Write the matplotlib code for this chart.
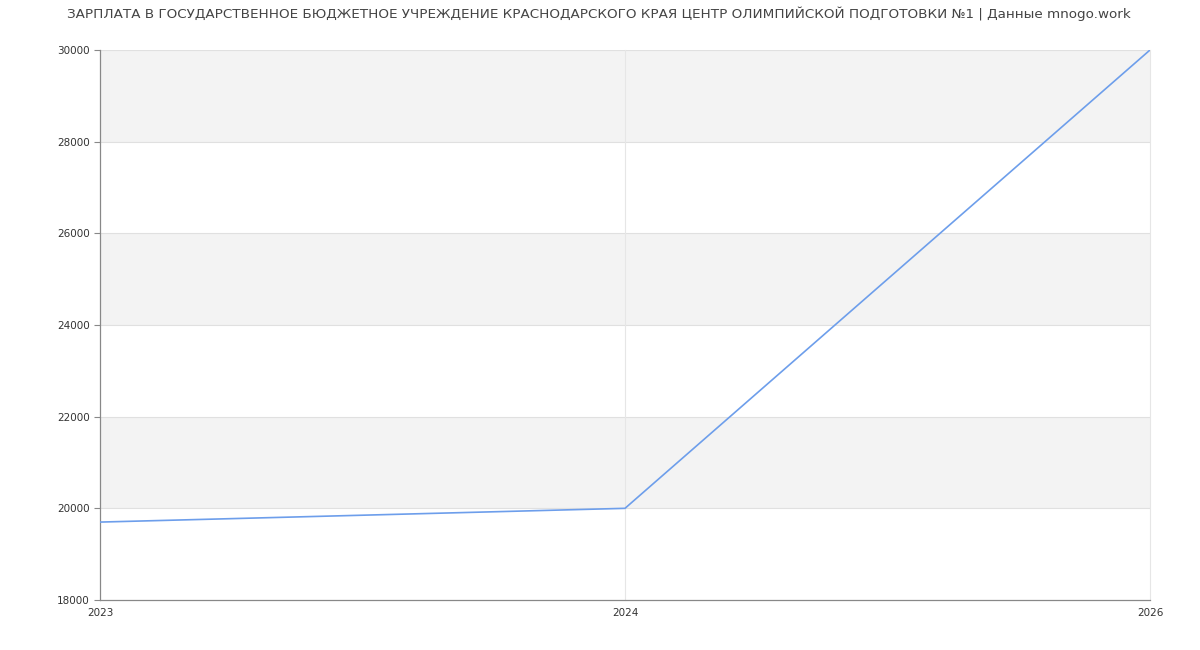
import matplotlib
matplotlib.use("Agg")
import matplotlib.pyplot as plt

years = ["2023", "2024", "2026"]
salary = [19700, 20000, 30000]
yticks = [18000, 20000, 22000, 24000, 26000, 28000, 30000]
title = "ЗАРПЛАТА В ГОСУДАРСТВЕННОЕ БЮДЖЕТНОЕ УЧРЕЖДЕНИЕ КРАСНОДАРСКОГО КРАЯ ЦЕНТР ОЛИМПИЙСКОЙ ПОДГОТОВКИ №1 | Данные mnogo.work"

plt.rcParams['font.family'] = ['DejaVu Sans']
fig = plt.figure(figsize=(12, 6.5), dpi=100)
ax = fig.add_axes([100/1200, 50/650, 1050/1200, 550/650])

xs = list(range(len(years)))
ax.set_xlim(0, len(years) - 1)
ax.set_ylim(yticks[0], yticks[-1])

# alternating bands
for i in range(1, len(yticks) - 1, 2):
    ax.axhspan(yticks[i], yticks[i + 1], color="#f3f3f3", zorder=0, lw=0)
for y in yticks[1:]:
    ax.axhline(y, color="#e0e0e0", lw=0.8, zorder=1)
for x in xs[1:]:
    ax.axvline(x, color="#e6e6e6", lw=0.8, zorder=1, clip_on=False)

ax.plot(xs, salary, color="#6d9eeb", lw=1.2, zorder=3)

ax.set_xticks(xs)
ax.set_xticklabels(years)
ax.set_yticks(yticks)
ax.set_yticklabels([str(v) for v in yticks])
ax.tick_params(axis="both", labelsize=7.5, colors="#333333", length=4, width=0.8)
ax.tick_params(axis="x", length=0, pad=6)
ax.tick_params(axis="y", color="#888888")

for s in ["top", "right"]:
    ax.spines[s].set_visible(False)
for s in ["left", "bottom"]:
    ax.spines[s].set_color("#888888")
    ax.spines[s].set_linewidth(0.9)

fig.text(599/1200, 1 - 14/650, title, ha="center", va="center", fontsize=9.7, color="#444444")

fig.savefig("out.png", dpi=100)
